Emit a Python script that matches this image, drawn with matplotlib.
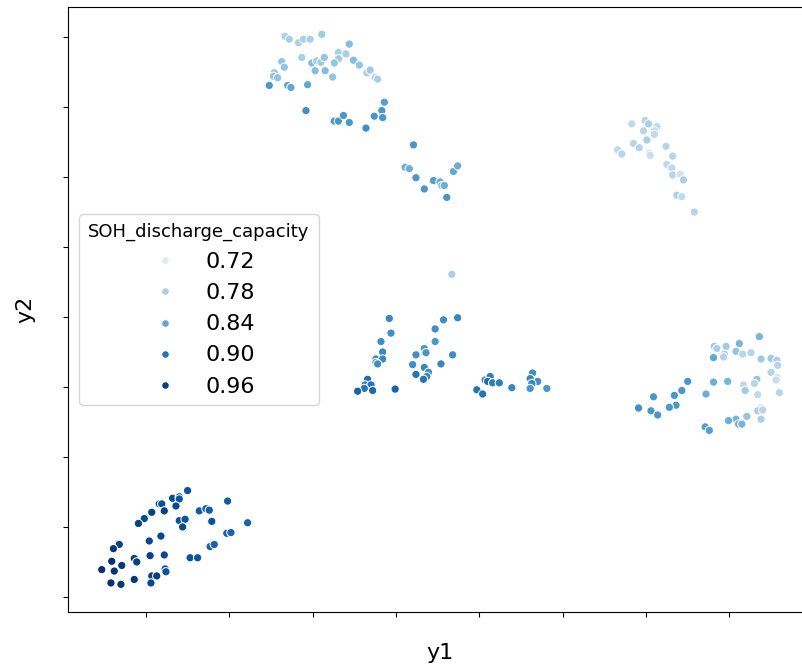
#!/usr/bin/env python3
"""
plot.py

Scatter of a 2-d embedding (y1, y2), coloured by SOH_discharge_capacity.
Tick labels are hidden on purpose (embedding units mean nothing).
Writes out.png.
"""

import matplotlib
matplotlib.use("Agg")
import matplotlib.pyplot as plt
from matplotlib.colors import Normalize
from matplotlib.lines import Line2D

# --------- data (one tick step = 1 unit) -----------------------------
y1 = [
    # upper-left arc
    1.67, 1.72, 1.83, 1.89, 1.97, 2.11, 2.44, 1.63, 1.66, 1.87, 1.99, 2.05,
    2.10, 2.14, 2.31, 2.40, 2.31, 2.26, 2.49, 2.56, 2.03, 2.15, 2.24, 2.65,
    2.69, 2.75, 2.78, 1.54, 1.53, 1.58, 1.48, 1.70, 1.74, 1.94, 1.92, 2.26,
    2.31, 2.37, 2.44, 2.64, 2.74, 2.83, 2.84, 2.86, 3.21, 3.11, 3.16, 3.24,
    3.34, 3.45, 3.53, 3.55, 3.58, 3.61, 3.69, 3.74,
    # upper-right group
    5.83, 5.99, 6.03, 6.13, 5.97, 6.10, 6.10, 6.01, 5.85, 5.92, 5.66, 5.71,
    6.04, 6.05, 6.24, 6.32, 6.25, 6.31, 6.32, 6.41, 6.45, 6.37, 6.43, 6.58,
    # middle band
    3.67, 2.92, 2.94, 2.82, 2.84, 2.76, 2.84, 2.76, 2.78, 2.66, 2.63, 2.70,
    2.62, 2.54, 2.72, 2.99, 3.57, 3.74, 3.47, 3.47, 3.34, 3.36, 3.24, 3.20,
    3.54, 3.68, 3.34, 3.39, 3.37, 3.24, 3.33, 4.07, 4.13, 4.10, 4.16, 4.24,
    3.97, 4.04, 4.39, 4.64, 4.61, 4.70, 4.63, 4.61, 4.81,
    # right group
    7.36, 6.82, 6.85, 6.96, 7.12, 7.08, 7.16, 7.26, 6.94, 6.93, 6.81, 7.38,
    7.50, 7.57, 7.58, 7.50, 7.57, 7.56, 7.33, 7.30, 7.17, 6.98, 6.81, 6.50,
    6.43, 7.19, 7.60, 7.34, 6.72, 6.34, 6.09, 6.36, 6.28, 5.91, 6.06, 6.14,
    7.38, 7.34, 7.40, 7.21, 7.08, 6.99, 7.11, 7.15, 7.38, 6.71, 6.76,
    # lower-left group
    0.50, 0.32, 0.40, 0.40, 0.16, 0.19, 0.36, 0.07, 0.22, -0.01, -0.02, -0.09,
    0.40, 0.47, 0.44, 0.64, 0.72, 0.76, 0.79, 0.98, 1.22, 0.97, 1.02, 0.77,
    0.82, 0.04, 0.18, -0.33, -0.32, -0.39, -0.41, -0.29, -0.53, -0.38, -0.14, -0.11,
    0.05, 0.22, 0.53, 0.62, 0.23, 0.24, 0.07, 0.13, -0.14, -0.42, -0.30, 0.06,
]

y2 = [
    # upper-left arc
    8.01, 7.97, 7.92, 7.97, 7.97, 8.04, 7.90, 7.65, 7.57, 7.71, 7.63, 7.66,
    7.64, 7.71, 7.78, 7.76, 7.69, 7.63, 7.67, 7.60, 7.52, 7.52, 7.43, 7.49,
    7.53, 7.42, 7.40, 7.49, 7.44, 7.42, 7.31, 7.31, 7.28, 7.32, 6.95, 6.80,
    6.80, 6.88, 6.78, 6.70, 6.87, 6.95, 6.85, 7.07, 6.46, 6.14, 6.12, 5.99,
    5.83, 5.95, 5.93, 5.88, 5.88, 5.71, 6.08, 6.16,
    # upper-right group
    6.76, 6.81, 6.76, 6.72, 6.66, 6.66, 6.61, 6.53, 6.48, 6.42, 6.39, 6.33,
    6.34, 6.31, 6.44, 6.30, 6.18, 6.13, 6.03, 6.04, 5.96, 5.74, 5.72, 5.50,
    # middle band
    4.61, 3.98, 3.77, 3.65, 3.50, 3.40, 3.40, 3.35, 3.33, 3.11, 3.03, 3.03,
    2.98, 2.94, 2.95, 2.97, 3.96, 3.99, 3.83, 3.65, 3.55, 3.49, 3.46, 3.32,
    3.33, 3.46, 3.28, 3.21, 3.15, 3.18, 3.11, 3.10, 3.15, 3.08, 3.06, 3.06,
    2.96, 2.90, 2.99, 3.20, 3.12, 3.08, 3.05, 2.98, 2.98,
    # right group
    3.72, 3.58, 3.55, 3.58, 3.62, 3.51, 3.47, 3.49, 3.47, 3.43, 3.42, 3.40,
    3.41, 3.38, 3.31, 3.21, 3.13, 3.10, 3.11, 3.05, 3.03, 3.08, 3.07, 3.08,
    2.95, 2.95, 2.92, 2.89, 2.90, 2.88, 2.86, 2.74, 2.71, 2.70, 2.66, 2.60,
    2.70, 2.66, 2.67, 2.58, 2.54, 2.52, 2.47, 2.47, 2.54, 2.43, 2.38,
    # lower-left group
    1.52, 1.41, 1.43, 1.40, 1.33, 1.33, 1.30, 1.21, 1.23, 1.13, 1.12, 1.05,
    1.09, 1.11, 1.00, 1.23, 1.26, 1.24, 1.08, 1.37, 1.06, 0.91, 0.92, 0.72,
    0.75, 0.80, 0.87, 0.76, 0.75, 0.69, 0.51, 0.45, 0.39, 0.37, 0.55, 0.50,
    0.59, 0.60, 0.56, 0.56, 0.40, 0.36, 0.30, 0.30, 0.25, 0.20, 0.18, 0.20,
]

soh = [
    # upper-left arc
    0.78, 0.78, 0.78, 0.78, 0.78, 0.79, 0.81, 0.80, 0.80, 0.78, 0.81, 0.79,
    0.79, 0.80, 0.78, 0.78, 0.79, 0.80, 0.81, 0.80, 0.81, 0.81, 0.80, 0.78,
    0.79, 0.78, 0.78, 0.80, 0.80, 0.80, 0.86, 0.84, 0.84, 0.84, 0.87, 0.86,
    0.86, 0.86, 0.86, 0.87, 0.86, 0.86, 0.86, 0.85, 0.86, 0.83, 0.83, 0.86,
    0.86, 0.85, 0.84, 0.82, 0.83, 0.86, 0.84, 0.83,
    # upper-right group
    0.76, 0.77, 0.78, 0.76, 0.77, 0.76, 0.76, 0.78, 0.77, 0.77, 0.76, 0.77,
    0.75, 0.75, 0.77, 0.77, 0.76, 0.76, 0.77, 0.74, 0.78, 0.78, 0.76, 0.77,
    # middle band
    0.78, 0.88, 0.87, 0.87, 0.88, 0.88, 0.88, 0.87, 0.87, 0.91, 0.89, 0.90,
    0.90, 0.92, 0.91, 0.92, 0.87, 0.88, 0.87, 0.86, 0.86, 0.86, 0.87, 0.87,
    0.88, 0.87, 0.88, 0.87, 0.88, 0.90, 0.90, 0.88, 0.89, 0.91, 0.89, 0.89,
    0.90, 0.90, 0.88, 0.87, 0.88, 0.87, 0.88, 0.86, 0.86,
    # right group
    0.82, 0.80, 0.78, 0.79, 0.82, 0.80, 0.77, 0.77, 0.78, 0.77, 0.84, 0.79,
    0.79, 0.78, 0.77, 0.77, 0.77, 0.75, 0.80, 0.77, 0.76, 0.82, 0.83, 0.86,
    0.86, 0.79, 0.77, 0.76, 0.83, 0.86, 0.86, 0.86, 0.86, 0.87, 0.86, 0.86,
    0.75, 0.78, 0.77, 0.80, 0.82, 0.83, 0.83, 0.82, 0.78, 0.85, 0.85,
    # lower-left group
    0.94, 0.95, 0.95, 0.94, 0.95, 0.94, 0.95, 0.96, 0.96, 0.95, 0.95, 0.96,
    0.94, 0.94, 0.95, 0.93, 0.93, 0.93, 0.94, 0.93, 0.92, 0.92, 0.92, 0.92,
    0.92, 0.95, 0.95, 0.95, 0.96, 0.97, 0.98, 0.97, 0.98, 0.97, 0.96, 0.96,
    0.96, 0.95, 0.94, 0.94, 0.95, 0.94, 0.96, 0.96, 0.97, 0.98, 0.97, 0.95,
]

legend_levels = [0.72, 0.78, 0.84, 0.90, 0.96]
x_ticks = [0, 1, 2, 3, 4, 5, 6, 7]
y_ticks = [0, 1, 2, 3, 4, 5, 6, 7, 8]
# ---------------------------------------------------------------------

OUT_PNG = "out.png"


def main():
    fig = plt.figure(figsize=(8.03, 6.69), dpi=100)
    # axes runs off the right edge of the picture (right spine not visible)
    ax = fig.add_axes([0.085, 0.0848, 0.925, 0.9047])

    cmap = plt.get_cmap("Blues")
    norm = Normalize(vmin=0.68, vmax=0.98)

    ax.scatter(y1, y2, c=soh, cmap=cmap, norm=norm, s=36,
               edgecolors="white", linewidths=0.75)

    ax.set_xlim(-0.932, 7.98)
    ax.set_ylim(-0.219, 8.43)
    ax.set_xticks(x_ticks)
    ax.set_yticks(y_ticks)
    ax.set_xticklabels([])
    ax.set_yticklabels([])

    ax.set_xlabel("y1", fontsize=16, labelpad=15)
    ax.set_ylabel("y2", fontsize=16, labelpad=17)

    handles = [
        Line2D([], [], marker="o", linestyle="", markersize=5.5,
               markerfacecolor=cmap(norm(v)), markeredgecolor="white",
               markeredgewidth=0.75)
        for v in legend_levels
    ]
    ax.legend(handles, [f"{v:.2f}" for v in legend_levels],
              title="SOH_discharge_capacity", title_fontsize=13,
              fontsize=16, loc="center left", borderaxespad=0.5)

    fig.savefig(OUT_PNG, dpi=100)


if __name__ == "__main__":
    main()
